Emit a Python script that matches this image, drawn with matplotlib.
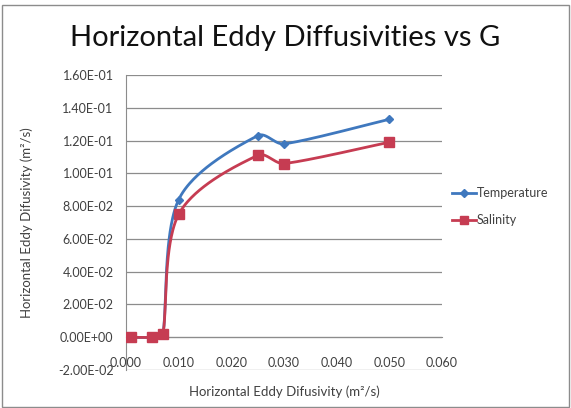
import numpy as np
import matplotlib
matplotlib.use("Agg")
import matplotlib.pyplot as plt
from matplotlib.ticker import FuncFormatter

plt.rcParams['font.family'] = ['Lato', 'DejaVu Sans']

x_vals = [0.001, 0.005, 0.007, 0.010, 0.025, 0.030, 0.050]
temperature = [0.0, 0.0, 0.002, 0.084, 0.123, 0.118, 0.133]
salinity = [0.0, 0.0, 0.002, 0.075, 0.111, 0.106, 0.119]
y_ticks = [-0.02, 0.0, 0.02, 0.04, 0.06, 0.08, 0.10, 0.12, 0.14, 0.16]
x_ticks = [0.0, 0.01, 0.02, 0.03, 0.04, 0.05, 0.06]

X_RANGE = (0.0, 0.06)
Y_RANGE = (-0.02, 0.16)


def smooth_curve(xs, ys, sx=316.0, sy=295.0, n=60):
    """Catmull-Rom style smoothed path, built in screen-like units so the
    curvature looks the same as a spreadsheet 'smoothed line'.  Tangents are
    limited to the chord length of each segment to avoid loops."""
    px = (np.asarray(xs, float) - X_RANGE[0]) / (X_RANGE[1] - X_RANGE[0]) * sx
    py = (np.asarray(ys, float) - Y_RANGE[0]) / (Y_RANGE[1] - Y_RANGE[0]) * sy
    P = np.column_stack([px, py])
    E = np.vstack([P[0], P, P[-1]])
    out = []
    t = np.linspace(0, 1, n)[:, None]
    h00 = 2 * t**3 - 3 * t**2 + 1
    h10 = t**3 - 2 * t**2 + t
    h01 = -2 * t**3 + 3 * t**2
    h11 = t**3 - t**2
    for i in range(1, len(E) - 2):
        p0, p1, p2, p3 = E[i - 1], E[i], E[i + 1], E[i + 2]
        chord = np.linalg.norm(p2 - p1)
        m1 = 0.5 * (p2 - p0)
        m2 = 0.5 * (p3 - p1)
        for m in (m1, m2):
            L = np.linalg.norm(m)
            if L > chord and L > 0:
                m *= chord / L
        out.append(h00 * p1 + h10 * m1 + h01 * p2 + h11 * m2)
    out = np.vstack(out)
    cx = out[:, 0] / sx * (X_RANGE[1] - X_RANGE[0]) + X_RANGE[0]
    cy = out[:, 1] / sy * (Y_RANGE[1] - Y_RANGE[0]) + Y_RANGE[0]
    return cx, cy


fig = plt.figure(figsize=(5.71, 4.08), dpi=100)
fig.patch.set_facecolor('white')
ax = fig.add_axes([0.2207, 0.0931, 0.5534, 0.723])

blue = '#3F78BE'
red = '#C63C52'
text_c = '#404040'

tx, ty = smooth_curve(x_vals, temperature)
sx_, sy_ = smooth_curve(x_vals, salinity)
ax.plot(tx, ty, color=blue, lw=2, zorder=3)
ax.plot(x_vals, temperature, linestyle='none', marker='D', ms=4.5,
        color=blue, zorder=4)
ax.plot(sx_, sy_, color=red, lw=2, zorder=3)
ax.plot(x_vals, salinity, linestyle='none', marker='s', ms=6.5,
        color=red, zorder=4)

ax.set_xlim(*X_RANGE)
ax.set_ylim(*Y_RANGE)
ax.set_xticks(x_ticks)
ax.set_yticks(y_ticks)
ax.xaxis.set_major_formatter(FuncFormatter(lambda v, p: f"{v:.3f}"))
ax.yaxis.set_major_formatter(FuncFormatter(lambda v, p: f"{v:.2E}"))
ax.tick_params(axis='both', labelsize=9, colors=text_c, length=0)
ax.tick_params(axis='y', pad=9)
ax.tick_params(axis='x', pad=14)

ax.grid(axis='y', color='#8C8C8C', lw=0.9)
ax.set_axisbelow(True)
for s in ['top', 'right']:
    ax.spines[s].set_visible(False)
ax.spines['bottom'].set_position(('data', 0))
ax.spines['bottom'].set_color('#8C8C8C')
ax.spines['left'].set_color('#8C8C8C')

ax.set_xlabel('Horizontal Eddy Difusivity (m²/s)', fontsize=9.5, color=text_c)
ax.xaxis.set_label_coords(0.5, -0.054)
ax.set_ylabel('Horizontal Eddy Difusivity (m²/s)', fontsize=9.5, color=text_c)
ax.yaxis.set_label_coords(-0.295, 0.5)

fig.text(0.5, 0.907, 'Horizontal Eddy Diffusivities vs G', ha='center',
         va='center', fontsize=21, color='#111111')

leg = ax.legend(handles=[
    plt.Line2D([], [], color=blue, lw=2, marker='D', ms=4, label='Temperature'),
    plt.Line2D([], [], color=red, lw=2, marker='s', ms=6, label='Salinity')],
    loc='center left', bbox_to_anchor=(1.0, 0.553), frameon=False,
    fontsize=9, handlelength=1.9, handletextpad=0.1, labelspacing=1.2,
    borderaxespad=0.4)
for t in leg.get_texts():
    t.set_color(text_c)

fig.add_artist(plt.Rectangle((0.003, 0.003), 0.994, 0.985,
                             transform=fig.transFigure, fill=False,
                             edgecolor='#8C8C8C', lw=1))

fig.savefig('out.png', dpi=100)
